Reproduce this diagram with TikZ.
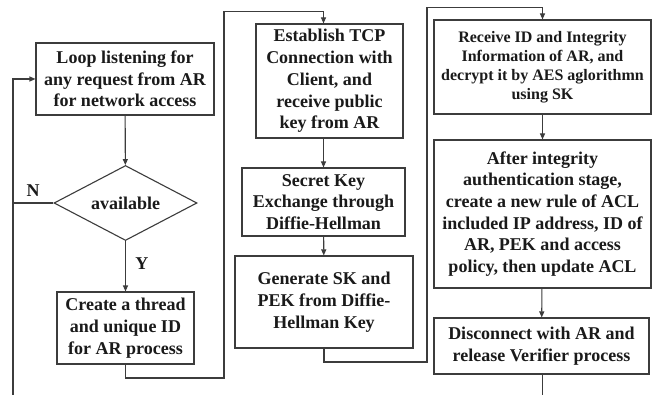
\documentclass[tikz,border=0pt]{standalone}
\usepackage{fontspec}
\setmainfont{Liberation Serif}
\usetikzlibrary{shapes.geometric,arrows.meta}
\definecolor{ln}{HTML}{3C3C3C}
\definecolor{tx}{HTML}{1A1A1A}
\begin{document}
\begin{tikzpicture}[x=1pt,y=-1pt,
  box/.style={draw=ln, line width=1.1pt, inner sep=0pt, align=center, text=tx, font=\fontsize{18}{21.7}\selectfont\bfseries},
  smallbox/.style={box, font=\fontsize{16}{19}\selectfont\bfseries},
  conn/.style={draw=ln, line width=1.1pt},
  arr/.style={conn, -{Triangle[length=6pt,width=5pt]}},
  lbl/.style={text=tx, font=\fontsize{18}{22}\selectfont\bfseries}]
\useasboundingbox[fill=white] (0,0) rectangle (652,395);
% left column
\node[box, minimum width=178pt, minimum height=72pt] (b1) at (125,79) {Loop listening for\\any request from AR\\for network access};
\node[box, shape=diamond, shape aspect=1.9, minimum width=143pt, minimum height=75pt] (d) at (125.5,203) {available};
\node[box, minimum width=137pt, minimum height=72pt] (b2) at (125.5,328) {Create a thread\\and unique ID\\for AR process};
% middle column
\node[box, minimum width=147pt, minimum height=114pt] (b3) at (329.5,81) {Establish TCP\\Connection with\\Client, and\\receive public\\key from AR};
\node[box, minimum width=163pt, minimum height=68pt] (b4) at (323.5,202) {Secret Key\\Exchange through\\Diffie-Hellman};
\node[box, minimum width=178pt, minimum height=92pt] (b5) at (324,302) {Generate SK and\\PEK from Diffie-\\Hellman Key};
% right column
\node[smallbox, minimum width=217pt, minimum height=94pt] (b6) at (542.5,67) {Receive ID and Integrity\\Information of AR, and\\decrypt it by AES aglorithmn\\using SK};
\node[box, minimum width=217pt, minimum height=148pt] (b7) at (542.5,214) {After integrity\\authentication stage,\\create a new rule of ACL\\included IP address, ID of\\AR, PEK and access\\policy, then update ACL};
\node[box, minimum width=215pt, minimum height=56pt] (b8) at (541.5,346) {Disconnect with AR and\\release Verifier process};
% free ends / junctions
\coordinate (lb) at (13,395);
\coordinate (ln) at (13,203);
\coordinate (j1) at (224,378);
\coordinate (j2) at (224,11.5);
\coordinate (k1) at (427,362);
\coordinate (k2) at (427,7.5);
\coordinate (rb) at (542.5,395);
% connectors
\draw[arr] (b1) -- (d);
\draw[arr] (d) -- (b2) node[lbl, pos=0.45, right=6pt] (ly) {Y};
\draw[conn] (d.west) -- (ln) node[lbl, pos=0.5, above=3pt] (lnn) {N};
\draw[arr] (lb) |- (b1.west);
\draw[arr] (b2.south) |- (j1) -- (j2) -| (b3.north -| b4.north);
\draw[arr] (b3.south -| b4.north) -- (b4.north);
\draw[arr] (b4) -- (b5);
\draw[arr] (b5.south) |- (k1) -- (k2) -| (b6.north);
\draw[arr] (b6) -- (b7);
\draw[arr] (b7) -- (b8);
\draw[conn] (b8.south -| rb) -- (rb);
\end{tikzpicture}
\end{document}
